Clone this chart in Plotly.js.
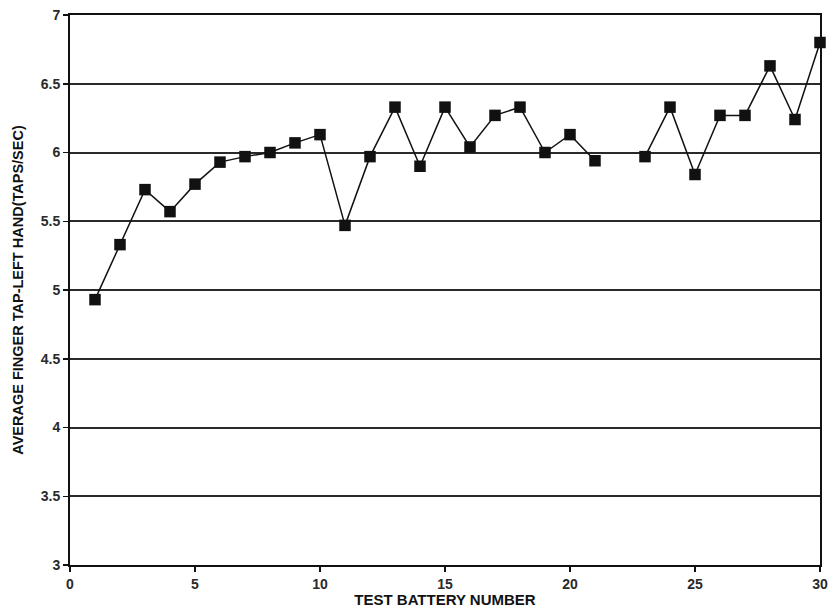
<!DOCTYPE html>
<html>
<head>
<meta charset="utf-8">
<script src="https://cdn.plot.ly/plotly-3.0.1.min.js"></script>
<style>body{margin:0;padding:0;background:#fff;}#chart{width:828px;height:608px;}</style>
</head>
<body>
<div id="chart"></div>
<script>
const batteryNumbers = [1,2,3,4,5,6,7,8,9,10,11,12,13,14,15,16,17,18,19,20,21,22,23,24,25,26,27,28,29,30];
const tapRates = [4.93,5.33,5.73,5.57,5.77,5.93,5.97,6.00,6.07,6.13,5.47,5.97,6.33,5.90,6.33,6.04,6.27,6.33,6.00,6.13,5.94,null,5.97,6.33,5.84,6.27,6.27,6.63,6.24,6.80];
const xTickVals = [0,5,10,15,20,25,30];
const yTickVals = [3,3.5,4,4.5,5,5.5,6,6.5,7];
const yTickText = ['3','3.5','4','4.5','5','5.5','6','6.5','7'];

const trace = {
  x: batteryNumbers,
  y: tapRates,
  type: 'scatter',
  mode: 'lines+markers',
  connectgaps: false,
  cliponaxis: false,
  line: {color: '#111', width: 1.5},
  marker: {symbol: 'square', size: 11.5, color: '#111'}
};

const tickFont = {family: 'Liberation Sans, Arial, sans-serif', size: 14, color: '#2a2a2a', weight: 'bold'};
const xTitleFont = {family: 'Liberation Sans, Arial, sans-serif', size: 15, color: '#111', weight: 'bold'};
const yTitleFont = {family: 'Liberation Sans, Arial, sans-serif', size: 14.5, color: '#111', weight: 'bold'};

const layout = {
  width: 828, height: 608,
  margin: {l: 70, r: 8, t: 15, b: 43},
  paper_bgcolor: '#fff', plot_bgcolor: '#fff',
  showlegend: false,
  xaxis: {
    range: [0, 30], tickvals: xTickVals, ticktext: xTickVals.map(String),
    ticks: 'outside', ticklen: 5, tickwidth: 1.5, tickcolor: '#111',
    showgrid: false, zeroline: false,
    showline: true, linecolor: '#111', linewidth: 2, mirror: true,
    tickfont: tickFont,
    title: {text: 'TEST BATTERY NUMBER', font: xTitleFont, standoff: 0}
  },
  yaxis: {
    range: [3, 7], tickvals: yTickVals, ticktext: yTickText,
    ticks: 'outside', ticklen: 5, tickwidth: 1.5, tickcolor: '#111',
    showgrid: true, gridcolor: '#2a2a2a', gridwidth: 2, zeroline: false,
    showline: true, linecolor: '#111', linewidth: 2, mirror: true,
    tickfont: tickFont,
    title: {text: 'AVERAGE FINGER TAP-LEFT HAND(TAPS/SEC)', font: yTitleFont, standoff: 14}
  }
};

Plotly.newPlot('chart', [trace], layout, {displayModeBar: false, staticPlot: true});
</script>
</body>
</html>
